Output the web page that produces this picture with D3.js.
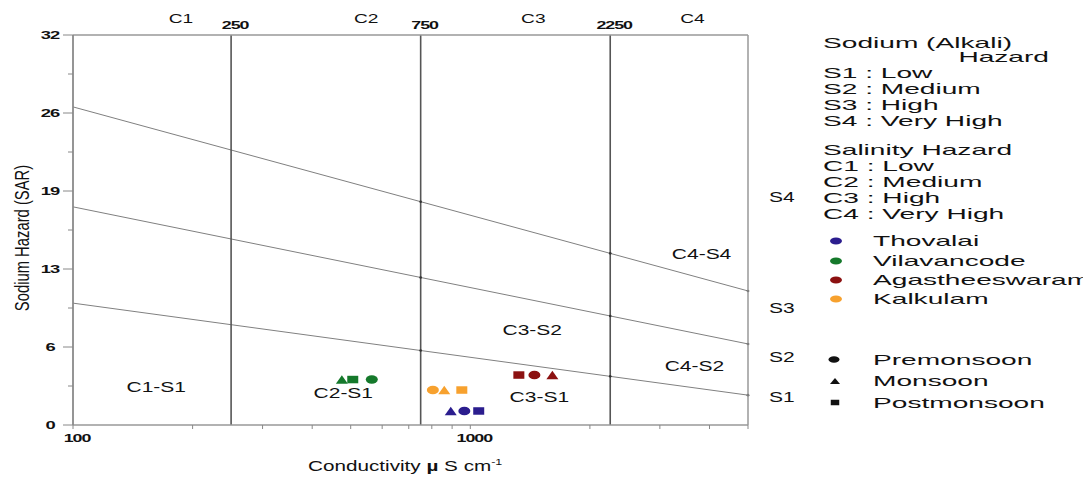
<!DOCTYPE html>
<html>
<head>
<meta charset="utf-8">
<script src="https://cdn.jsdelivr.net/npm/d3@7"></script>
<style>
  html, body { margin: 0; padding: 0; background: #fff; }
  svg { display: block; }
</style>
</head>
<body>
<svg id="chart" width="1083" height="477"></svg>
<script>
// ---------------- DATA ----------------
const regions = ["Thovalai", "Vilavancode", "Agastheeswaram", "Kalkulam"];
const regionColors = ["#2b1d8e", "#15792b", "#8c1111", "#f7a12e"];
const seasons = ["Premonsoon", "Monsoon", "Postmonsoon"];
const seasonShapes = ["circle", "triangle", "square"];

// EC (µS/cm) and SAR per region, per season
const ecPremonsoon  = [966, 565, 1450, 805];
const ecMonsoon     = [893, 475, 1609, 860];
const ecPostmonsoon = [1050, 506, 1325, 952];
const sarPremonsoon  = [1.15, 3.73, 4.10, 2.87];
const sarMonsoon     = [1.15, 3.73, 4.10, 2.87];
const sarPostmonsoon = [1.15, 3.73, 4.10, 2.87];

// salinity class boundaries (EC)
const salinityBounds = [250, 750, 2250];
const salinityLabels = ["C1", "C2", "C3", "C4"];
const salinityLabelEC = [187, 547, 1441, 3624];

// sodium hazard boundary lines (SAR at EC = 100 and EC = 5000)
const sLineEC = [100, 5000];
const sLineS1S2 = [10.0, 2.45];
const sLineS2S3 = [17.9, 6.65];
const sLineS3S4 = [26.1, 11.0];

// y tick labels (every 6.4 SAR)
const yTickValues = [0, 6.4, 12.8, 19.2, 25.6, 32];
const yTickLabels = ["0", "6", "13", "19", "26", "32"];
const xTickValues = [100, 1000];
const xTickLabels = ["100", "1000"];

// zone labels (EC, SAR position)
const zoneNames = ["C1-S1", "C2-S1", "C3-S1", "C3-S2", "C4-S4", "C4-S2"];
const zoneEC    = [162, 479, 1492, 1432, 3820, 3665];
const zoneSAR   = [2.71, 2.22, 1.89, 7.38, 13.62, 4.43];

// right side S class labels
const sClassNames = ["S4", "S3", "S2", "S1"];
const sClassSAR = [18.3, 9.19, 5.17, 1.89];

const sodiumLegend = ["S1 : Low", "S2 : Medium", "S3 : High", "S4 : Very High"];
const salinityLegend = ["C1 : Low", "C2 : Medium", "C3 : High", "C4 : Very High"];

// ---------------- LAYOUT ----------------
const svg = d3.select("#chart");
const FONT = "'Liberation Sans', Arial, Helvetica, sans-serif";
const L = 73, R = 748, T = 35, B = 425;

const x = d3.scaleLog().domain([100, 5000]).range([L, R]);
const y = d3.scaleLinear().domain([0, 32]).range([B, T]);

function txt(g, px, py, s, o) {
  o = o || {};
  return g.append("text")
    .attr("transform", `translate(${px},${py}) scale(${o.sx || 1},1)`)
    .attr("text-anchor", o.anchor || "start")
    .attr("font-family", FONT)
    .attr("font-size", o.size || 14)
    .attr("font-weight", o.weight || "normal")
    .attr("letter-spacing", o.ls || 0)
    .attr("fill", o.fill || "#111")
    .text(s);
}

function shapePath(type, cx, cy, w, h) {
  if (type === "triangle") {
    return `M${cx - w / 2},${cy + h / 2}L${cx},${cy - h / 2}L${cx + w / 2},${cy + h / 2}Z`;
  } else if (type === "square") {
    return `M${cx - w / 2},${cy - h / 2}h${w}v${h}h${-w}Z`;
  }
  const rx = w / 2, ry = h / 2;
  return `M${cx - rx},${cy}a${rx},${ry} 0 1,0 ${2 * rx},0a${rx},${ry} 0 1,0 ${-2 * rx},0Z`;
}

const g = svg.append("g");

// ---- S boundary lines ----
const sLines = [sLineS1S2, sLineS2S3, sLineS3S4];
const lineGen = d3.line().x(d => x(d[0])).y(d => y(d[1]));
sLines.forEach(vals => {
  g.append("path")
    .attr("d", lineGen(sLineEC.map((e, i) => [e, vals[i]])))
    .attr("fill", "none").attr("stroke", "#808080").attr("stroke-width", 1);
});

// ---- salinity vertical lines ----
salinityBounds.forEach(b => {
  g.append("line")
    .attr("x1", x(b)).attr("x2", x(b)).attr("y1", y(32)).attr("y2", y(0))
    .attr("stroke", "#555").attr("stroke-width", 1.6);
});

// intersection dots
function sarAt(vals, ec) {
  const t = (Math.log10(ec) - Math.log10(sLineEC[0])) / (Math.log10(sLineEC[1]) - Math.log10(sLineEC[0]));
  return vals[0] + t * (vals[1] - vals[0]);
}
sLines.forEach(vals => {
  [750, 2250, 5000].forEach(b => {
    g.append("circle").attr("cx", x(b)).attr("cy", y(sarAt(vals, b))).attr("r", 1.3).attr("fill", "#333");
  });
});

// ---- frame ----
g.append("line").attr("x1", L).attr("x2", R).attr("y1", T).attr("y2", T).attr("stroke", "#999").attr("stroke-width", 1.5);
g.append("line").attr("x1", R).attr("x2", R).attr("y1", T).attr("y2", B).attr("stroke", "#999").attr("stroke-width", 1.5);
g.append("line").attr("x1", L).attr("x2", R).attr("y1", B).attr("y2", B).attr("stroke", "#999").attr("stroke-width", 1.5);
g.append("line").attr("x1", L).attr("x2", L).attr("y1", T).attr("y2", B).attr("stroke", "#8a8a8a").attr("stroke-width", 1.8);

// ---- y ticks ----
const yMinor = d3.range(0, 32.01, 3.2);
yMinor.forEach((v, i) => {
  const major = i % 2 === 0;
  g.append("line").attr("x1", L - (major ? 10 : 5)).attr("x2", L).attr("y1", y(v)).attr("y2", y(v))
    .attr("stroke", "#888").attr("stroke-width", 1);
});
yTickValues.forEach((v, i) => {
  txt(g, 50, y(v) + 4, yTickLabels[i], { size: 10.5, weight: "bold", sx: 1.75, anchor: "middle", ls: -0.6 });
});

// ---- x ticks ----
const xMinor = [];
[100, 1000].forEach(dec => { for (let k = 1; k <= 9; k++) { const v = dec * k; if (v <= 5000) xMinor.push(v); } });
xMinor.forEach(v => {
  g.append("line").attr("x1", x(v)).attr("x2", x(v)).attr("y1", B).attr("y2", B + 4)
    .attr("stroke", "#888").attr("stroke-width", 1);
});
xTickValues.forEach((v, i) => {
  txt(g, x(v) + 4, 442, xTickLabels[i], { size: 10.5, weight: "bold", sx: 1.7, anchor: "middle", ls: -0.6 });
});

// ---- top labels ----
salinityBounds.forEach(b => {
  txt(g, x(b) + 4, 29, String(b), { size: 10.5, weight: "bold", sx: 1.7, anchor: "middle", ls: -0.6 });
});
salinityLabels.forEach((s, i) => {
  txt(g, x(salinityLabelEC[i]), 23, s, { size: 13.5, sx: 1.42, anchor: "middle" });
});

// ---- zone labels ----
zoneNames.forEach((s, i) => {
  txt(g, x(zoneEC[i]), y(zoneSAR[i]), s, { size: 14, sx: 1.5, anchor: "middle" });
});

// ---- right S class labels ----
sClassNames.forEach((s, i) => {
  txt(g, 769, y(sClassSAR[i]), s, { size: 14, sx: 1.5 });
});

// ---- axis titles ----
svg.append("text")
  .attr("transform", "translate(29,238) rotate(-90) scale(0.74,1)")
  .attr("text-anchor", "middle").attr("font-family", FONT).attr("font-size", 20).attr("fill", "#111")
  .text("Sodium Hazard (SAR)");
const xt = txt(svg, 308, 471, "", { size: 15, sx: 1.38 });
xt.append("tspan").text("Conductivity ");
xt.append("tspan").attr("font-weight", "bold").text("µ");
xt.append("tspan").text(" S cm");
xt.append("tspan").attr("font-size", 9).attr("dy", -6).text("-1");

// ---- data points ----
const ecBySeason = [ecPremonsoon, ecMonsoon, ecPostmonsoon];
const sarBySeason = [sarPremonsoon, sarMonsoon, sarPostmonsoon];
const points = [];
seasons.forEach((s, si) => regions.forEach((r, ri) => {
  points.push({ region: r, season: s, shape: seasonShapes[si], color: regionColors[ri],
    ec: ecBySeason[si][ri], sar: sarBySeason[si][ri] });
}));
g.selectAll("path.pt").data(points).enter().append("path")
  .attr("class", "pt")
  .attr("d", d => d.shape === "square" ? shapePath("square", x(d.ec), y(d.sar), 11, 7.5)
                : d.shape === "triangle" ? shapePath("triangle", x(d.ec), y(d.sar), 12, 8.5)
                : shapePath("circle", x(d.ec), y(d.sar), 12, 8.5))
  .attr("fill", d => d.color);

// ---- legend ----
const LX = 823, LFS = 14.2, LSX = 1.98;
txt(svg, LX, 48, "Sodium (Alkali)", { size: LFS, sx: LSX });
txt(svg, 1049, 62, "Hazard", { size: LFS, sx: LSX, anchor: "end" });
sodiumLegend.forEach((s, i) => txt(svg, LX, 78 + i * 16, s, { size: LFS, sx: LSX }));
txt(svg, LX, 155, "Salinity Hazard", { size: LFS, sx: LSX });
salinityLegend.forEach((s, i) => txt(svg, LX, 171 + i * 16, s, { size: LFS, sx: LSX }));

const regionLegendY = [241, 261, 280, 299];
regions.forEach((r, i) => {
  svg.append("path").attr("d", shapePath("circle", 836, regionLegendY[i], 12, 7)).attr("fill", regionColors[i]);
  txt(svg, 873, regionLegendY[i] + 5, r, { size: LFS, sx: LSX });
});
const seasonLegendY = [359.5, 381, 402.5];
seasons.forEach((s, i) => {
  const sh = seasonShapes[i];
  const d = sh === "circle" ? shapePath("circle", 834, seasonLegendY[i], 11, 6.5)
          : sh === "triangle" ? shapePath("triangle", 835, seasonLegendY[i], 10, 6)
          : shapePath("square", 835, seasonLegendY[i], 8.5, 5.5);
  svg.append("path").attr("d", d).attr("fill", "#111");
  txt(svg, 873, seasonLegendY[i] + 5, s, { size: LFS, sx: LSX });
});
</script>
</body>
</html>
